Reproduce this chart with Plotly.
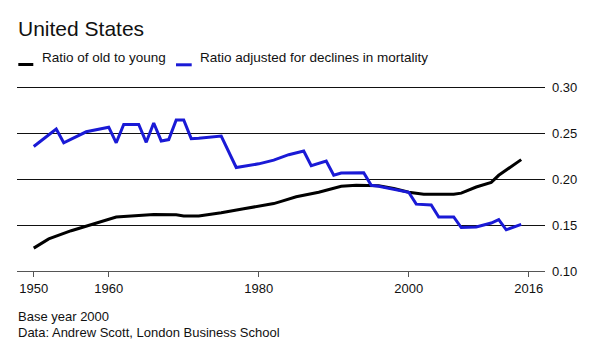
import plotly.graph_objects as go

# ---- data ----
years_old = [1950, 1952, 1955, 1957, 1959, 1961, 1963, 1966, 1969, 1970, 1972, 1975,
             1978, 1980, 1982, 1983, 1985, 1988, 1990, 1991, 1993, 1994, 1996, 1998,
             2000, 2002, 2006, 2007, 2009, 2011, 2012, 2015]
ratio_old = [0.125, 0.135, 0.144, 0.149, 0.1535, 0.159, 0.160, 0.1616, 0.1613, 0.160,
             0.160, 0.1635, 0.168, 0.171, 0.1736, 0.176, 0.181, 0.186, 0.190, 0.1925,
             0.1936, 0.1935, 0.193, 0.190, 0.186, 0.1837, 0.1837, 0.185, 0.1917, 0.1968,
             0.2045, 0.2216]

years_adj = [1950, 1953, 1954, 1957, 1960, 1961, 1962, 1964, 1965, 1966, 1967, 1968,
             1969, 1970, 1971, 1972, 1975, 1977, 1980, 1982, 1984, 1986, 1987, 1989,
             1990, 1991, 1994, 1995, 1996, 2000, 2001, 2003, 2004, 2006, 2007, 2009,
             2011, 2012, 2013, 2015]
ratio_adj = [0.236, 0.255, 0.240, 0.252, 0.257, 0.240, 0.260, 0.260, 0.2405, 0.2616,
             0.242, 0.2435, 0.265, 0.265, 0.2445, 0.245, 0.2474, 0.213, 0.217, 0.221,
             0.227, 0.231, 0.215, 0.220, 0.2045, 0.207, 0.2074, 0.1936, 0.1925, 0.186,
             0.173, 0.172, 0.159, 0.159, 0.1474, 0.148, 0.1524, 0.156, 0.145, 0.151]

x_ticks = [1950, 1960, 1980, 2000, 2016]
y_ticks = [0.10, 0.15, 0.20, 0.25, 0.30]
y_tick_text = ["0.10", "0.15", "0.20", "0.25", "0.30"]

title_text = "United States"
legend_names = ["Ratio of old to young", "Ratio adjusted for declines in mortality"]
footer_lines = ["Base year 2000", "Data: Andrew Scott, London Business School"]

BLACK = "#000000"
BLUE = "#1a1ad6"
FONT = "Liberation Sans, Arial, Helvetica, sans-serif"

W, H = 600, 351
L, R = 17, 55
T, B = 85.7, 80.3
plot_h = H - T - B
plot_w = W - L - R


def py(px):
    return (H - B - px) / plot_h


def pxx(px):
    return (px - L) / plot_w


fig = go.Figure()
fig.add_trace(go.Scatter(x=years_old, y=ratio_old, mode="lines", name=legend_names[0],
                         line=dict(color=BLACK, width=3), showlegend=False))
fig.add_trace(go.Scatter(x=years_adj, y=ratio_adj, mode="lines", name=legend_names[1],
                         line=dict(color=BLUE, width=3), showlegend=False))

annotations = [
    dict(text=title_text, x=pxx(15.5), y=py(28.5), xref="paper", yref="paper",
         xanchor="left", yanchor="middle", showarrow=False,
         font=dict(size=21, color="#111", family=FONT)),
    dict(text=legend_names[0], x=pxx(39.5), y=py(57.5), xref="paper", yref="paper",
         xanchor="left", yanchor="middle", showarrow=False,
         font=dict(size=13.5, color="#111", family=FONT)),
    dict(text=legend_names[1], x=pxx(198), y=py(57.5), xref="paper", yref="paper",
         xanchor="left", yanchor="middle", showarrow=False,
         font=dict(size=13.5, color="#111", family=FONT)),
    dict(text=footer_lines[0], x=pxx(15.5), y=py(316), xref="paper", yref="paper",
         xanchor="left", yanchor="middle", showarrow=False,
         font=dict(size=13, color="#111", family=FONT)),
    dict(text=footer_lines[1], x=pxx(15.5), y=py(332.5), xref="paper", yref="paper",
         xanchor="left", yanchor="middle", showarrow=False,
         font=dict(size=13, color="#111", family=FONT)),
]

shapes = [
    dict(type="line", xref="paper", yref="paper", x0=pxx(18.3), x1=pxx(33.3),
         y0=py(64.2), y1=py(64.2), line=dict(color=BLACK, width=3)),
    dict(type="line", xref="paper", yref="paper", x0=pxx(176), x1=pxx(191.7),
         y0=py(64.5), y1=py(64.5), line=dict(color=BLUE, width=3)),
]

fig.update_layout(
    width=W, height=H,
    margin=dict(l=L, r=R, t=T, b=B),
    paper_bgcolor="white", plot_bgcolor="white",
    font=dict(family=FONT, size=13, color="#222"),
    annotations=annotations, shapes=shapes,
    xaxis=dict(range=[1947.77, 2018.17], tickvals=x_ticks, ticktext=[str(v) for v in x_ticks],
               showgrid=False, zeroline=False, showline=True, linecolor="#555", linewidth=1,
               ticks="outside", ticklen=5, tickcolor="#555", tickwidth=1,
               tickfont=dict(size=13, color="#111", family=FONT)),
    yaxis=dict(range=[0.1, 0.302], side="right", tickvals=y_ticks, ticktext=y_tick_text,
               showgrid=True, gridcolor="#111", gridwidth=1, zeroline=False,
               showline=False, ticks="", ticklabelstandoff=6,
               tickfont=dict(size=13, color="#111", family=FONT)),
)

fig.write_html("out.html")
